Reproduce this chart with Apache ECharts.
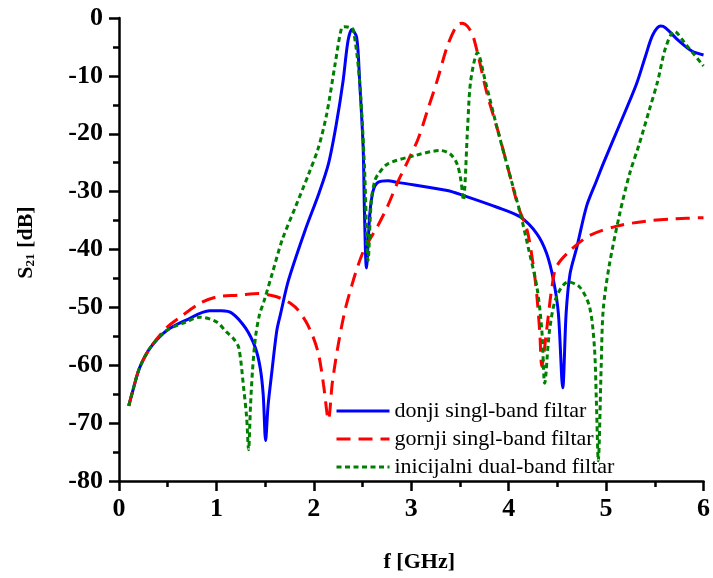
<!DOCTYPE html>
<html>
<head>
<meta charset="utf-8">
<script src="https://cdn.jsdelivr.net/npm/echarts@6/dist/echarts.min.js"></script>
<style>
html,body{margin:0;padding:0;background:#fff;}
#chart{width:713px;height:578px;}
</style>
</head>
<body>
<div id="chart"></div>
<script>
// ---- data ----
var seriesNames = ['donji singl-band filtar', 'gornji singl-band filtar', 'inicijalni dual-band filtar'];
var xTicks = [0, 1, 2, 3, 4, 5, 6];
var yTicks = [-80, -70, -60, -50, -40, -30, -20, -10, 0];

var freqDonji = [0.1, 0.14, 0.21, 0.32, 0.49, 0.69, 0.93, 1.05, 1.16, 1.30, 1.40, 1.45, 1.48, 1.505, 1.53, 1.57, 1.62, 1.66, 1.74, 1.91, 2.05, 2.15, 2.23, 2.30, 2.35, 2.39, 2.44, 2.47, 2.506, 2.52, 2.54, 2.575, 2.61, 2.66, 2.76, 2.86, 3.37, 3.54, 3.88, 4.12, 4.29, 4.39, 4.46, 4.51, 4.555, 4.59, 4.63, 4.70, 4.80, 4.90, 4.97, 5.14, 5.31, 5.41, 5.48, 5.56, 5.61, 5.75, 5.88, 6.0];
var s21Donji = [-67, -64.5, -60.5, -57, -54, -52.2, -50.6, -50.6, -51, -53.6, -57, -60.5, -65, -73, -67, -61, -54, -51, -45.3, -36.7, -30.4, -25.2, -18.4, -10.9, -4.0, -2.0, -3.4, -10.9, -22.3, -33.8, -43.2, -33.8, -29.8, -28.4, -28.1, -28.4, -29.8, -30.7, -32.7, -34.4, -37.3, -40.7, -45.3, -51, -63.9, -51, -44.2, -39.6, -32.5, -28.2, -25.2, -18.4, -11.5, -6.3, -2.9, -1.4, -1.7, -4.0, -5.7, -6.4];

var freqGornji = [0.1, 0.14, 0.21, 0.32, 0.49, 0.62, 0.83, 1.0, 1.23, 1.44, 1.58, 1.67, 1.76, 1.84, 1.92, 1.99, 2.05, 2.10, 2.15, 2.19, 2.25, 2.32, 2.39, 2.455, 2.52, 2.66, 2.76, 2.86, 2.96, 3.07, 3.17, 3.27, 3.37, 3.47, 3.52, 3.58, 3.64, 3.78, 3.90, 4.0, 4.10, 4.19, 4.255, 4.29, 4.32, 4.34, 4.39, 4.44, 4.49, 4.63, 4.83, 5.1, 5.41, 5.7, 6.0];
var s21Gornji = [-67, -64.5, -60.5, -57, -53.5, -51.8, -49.3, -48.2, -47.9, -47.6, -48, -48.5, -49.3, -50.5, -52.5, -55, -58.2, -63.4, -69.4, -63, -56.5, -50.5, -46.2, -42.7, -39.9, -35.8, -32.4, -28.4, -24.9, -20.9, -15.8, -10.6, -4.9, -1.2, -0.9, -1.5, -3.4, -13.2, -20.1, -26.4, -32.7, -36.7, -43, -48.1, -54.5, -60.2, -53.9, -47, -43, -40.2, -37.6, -36, -35.1, -34.7, -34.5];

var freqInicijalni = [0.1, 0.14, 0.21, 0.32, 0.49, 0.69, 0.83, 1.0, 1.10, 1.18, 1.23, 1.28, 1.31, 1.33, 1.35, 1.37, 1.40, 1.44, 1.487, 1.572, 1.674, 1.81, 1.946, 2.047, 2.132, 2.218, 2.285, 2.32, 2.36, 2.404, 2.47, 2.52, 2.557, 2.59, 2.625, 2.66, 2.76, 3.03, 3.30, 3.40, 3.47, 3.51, 3.535, 3.58, 3.61, 3.68, 3.76, 3.88, 4.0, 4.12, 4.20, 4.29, 4.34, 4.37, 4.42, 4.49, 4.61, 4.73, 4.83, 4.88, 4.90, 4.92, 4.95, 4.97, 5.03, 5.14, 5.24, 5.34, 5.44, 5.53, 5.61, 5.70, 5.82, 6.0];
var s21Inicijalni = [-67, -64.5, -60.5, -57, -54, -52.5, -51.7, -52.5, -54.2, -55.5, -57, -64, -69, -74.6, -67, -61, -55.3, -51.4, -49, -44.2, -38.4, -32.7, -27, -22.4, -16.6, -8.0, -1.7, -1.5, -1.6, -2.0, -10.9, -25.8, -41.9, -31.5, -28.2, -27, -25.2, -23.8, -22.9, -23.5, -25.2, -28.1, -31.5, -18.4, -10.9, -6.0, -10.9, -18.9, -26.4, -33.8, -39.6, -46.5, -53.9, -63.1, -53.9, -48.2, -45.6, -46.5, -49.9, -56.8, -66, -76.5, -60, -50.5, -43, -33.8, -27, -21.8, -16.1, -10.9, -5.2, -2.3, -4.6, -8.3];

function pairs(xs, ys) { return xs.map(function (x, i) { return [x, ys[i]]; }); }

var FONT = "'Liberation Serif', 'Times New Roman', serif";
var chart = echarts.init(document.getElementById('chart'), null, { renderer: 'canvas' });

var axisCommon = {
  axisLine: { show: true, onZero: false, lineStyle: { color: '#000', width: 2.5 } },
  axisTick: { show: true, inside: false, length: 10, lineStyle: { color: '#000', width: 2.5 } },
  minorTick: { show: true, splitNumber: 2, length: 6, lineStyle: { color: '#000', width: 2.5 } },
  splitLine: { show: false },
  minorSplitLine: { show: false }
};

chart.setOption({
  animation: false,
  backgroundColor: '#fff',
  grid: { left: 119, right: 4, top: 18, bottom: 95, containLabel: false },
  xAxis: Object.assign({
    type: 'value',
    min: xTicks[0], max: xTicks[xTicks.length - 1], interval: 1,
    name: 'f [GHz]',
    nameLocation: 'middle',
    nameGap: 70,
    nameTextStyle: { fontFamily: FONT, fontWeight: 'bold', fontSize: 22, color: '#000', padding: [0, 0, 0, 16] },
    axisLabel: { fontFamily: FONT, fontWeight: 'bold', fontSize: 26, color: '#000', margin: 15 }
  }, axisCommon),
  yAxis: Object.assign({
    type: 'value',
    min: yTicks[0], max: yTicks[yTicks.length - 1], interval: 10,
    name: '{s|S}{sub|21}{s| [dB]}',
    nameLocation: 'middle',
    nameGap: 82,
    nameRotate: 90,
    nameTextStyle: {
      fontFamily: FONT, fontWeight: 'bold', fontSize: 22, color: '#000',
      padding: [0, 0, 0, 14],
      rich: {
        s: { fontFamily: FONT, fontWeight: 'bold', fontSize: 22, color: '#000' },
        sub: { fontFamily: FONT, fontWeight: 'bold', fontSize: 13, color: '#000', padding: [9, 0, 0, 0] }
      }
    },
    axisLabel: { fontFamily: FONT, fontWeight: 'bold', fontSize: 26, color: '#000', margin: 16 }
  }, axisCommon),
  legend: {
    orient: 'vertical',
    left: 335,
    top: 400,
    padding: 0,
    itemWidth: 53,
    itemHeight: 14,
    itemGap: 6,
    itemStyle: { opacity: 0 },
    lineStyle: { width: 3 },
    textStyle: { fontFamily: FONT, fontSize: 22, color: '#000', lineHeight: 22 },
    data: seriesNames
  },
  series: [
    {
      name: seriesNames[0], type: 'line', data: pairs(freqDonji, s21Donji),
      showSymbol: false, symbol: 'none', smooth: 0.3,
      lineStyle: { color: '#0000ff', width: 3, type: 'solid' },
      itemStyle: { color: '#0000ff' }
    },
    {
      name: seriesNames[1], type: 'line', data: pairs(freqGornji, s21Gornji),
      showSymbol: false, symbol: 'none', smooth: 0.3,
      lineStyle: { color: '#ff0000', width: 3, type: [14, 8] },
      itemStyle: { color: '#ff0000' }
    },
    {
      name: seriesNames[2], type: 'line', data: pairs(freqInicijalni, s21Inicijalni),
      showSymbol: false, symbol: 'none', smooth: 0.3,
      lineStyle: { color: '#008000', width: 3, type: [5, 3.5] },
      itemStyle: { color: '#008000' }
    }
  ]
});
</script>
</body>
</html>
